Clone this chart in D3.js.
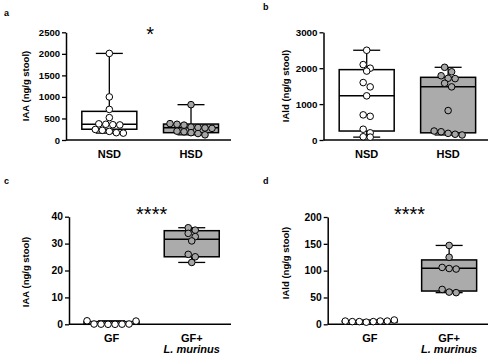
<!DOCTYPE html>
<html><head><meta charset="utf-8">
<script src="https://cdn.jsdelivr.net/npm/d3@7"></script>
<style>body{margin:0;background:#fff}svg{display:block}text{font-family:"Liberation Sans",Arial,sans-serif}</style>
</head><body>
<svg id="chart" width="493" height="357"></svg>
<script>
// ---- data ----
const panelLetters = ["a", "b", "c", "d"];
const groupsAB = ["NSD", "HSD"];
const groupsCD = ["GF", "GF+"];
const subLabelsCD = ["", "L. murinus"];
const yLabels = ["IAA (ng/g stool)", "IAld (ng/g stool)", "IAA (ng/g stool)", "IAld (ng/g stool)"];
const sigLabels = ["*", "", "****", "****"];

const ticksA = [0, 500, 1000, 1500, 2000, 2500];
const ticksB = [0, 1000, 2000, 3000];
const ticksC = [0, 10, 20, 30, 40];
const ticksD = [0, 50, 100, 150, 200];

// individual animals
const iaaNSD = [2010, 1000, 710, 520, 375, 365, 355, 350, 245, 225, 200, 170, 160];
const iaaHSD = [820, 380, 365, 345, 300, 290, 280, 270, 205, 190, 170, 150, 120];
const ialdNSD = [2500, 2100, 2000, 1920, 1600, 1480, 1230, 700, 660, 300, 200, 90, 80];
const ialdHSD = [2025, 1900, 1790, 1720, 1710, 1580, 1480, 820, 250, 230, 185, 160, 140];
const iaaGF = [1.3, 0.1, 0.05, 0, 0, 0.05, 0.1, 1.2];
const iaaLm = [35.9, 35.0, 33.8, 32.6, 31.0, 26.0, 25.1, 23.0];
const ialdGF = [6, 5, 5, 4, 5, 6, 6, 8];
const ialdLm = [147, 125, 106, 104, 103, 65, 60, 59];

// box summaries [min, q1, median, q3, max]
const boxIaaNSD = [160, 250, 365, 665, 2010];
const boxIaaHSD = [120, 170, 285, 370, 820];
const boxIaldNSD = [80, 250, 1234, 1960, 2500];
const boxIaldHSD = [140, 200, 1485, 1746, 2025];
const boxIaaGF = [0, 0, 0.1, 1.0, 1.3];
const boxIaaLm = [23.0, 25.1, 31.6, 34.8, 35.9];
const boxIaldGF = [4, 4.5, 5, 6, 8];
const boxIaldLm = [59, 62, 104.7, 120, 147];

// ---- layout ----
const layout = [
  {x0: 66, x1: 231, yTop: 32.3, yBot: 140, letterX: 4, letterY: 16, labelX: 25.5, labelY: 86, catY: 158, tickFs: 9.5, starY: 40.5},
  {x0: 323.5, x1: 488, yTop: 32.3, yBot: 140, letterX: 263, letterY: 10, labelX: 285.7, labelY: 86, catY: 158, tickFs: 9.8, starY: 40.5},
  {x0: 69, x1: 231, yTop: 216.7, yBot: 324.3, letterX: 4, letterY: 183.5, labelX: 25.5, labelY: 272, catY: 342, tickFs: 10.3, starY: 221},
  {x0: 327.7, x1: 488, yTop: 217, yBot: 324.3, letterX: 263, letterY: 184, labelX: 285.7, labelY: 263, catY: 342, tickFs: 10.3, starY: 221}
];

const panels = [
  {groups: groupsAB, sub: ["", ""], ticks: ticksA, values: [iaaNSD, iaaHSD], boxes: [boxIaaNSD, boxIaaHSD]},
  {groups: groupsAB, sub: ["", ""], ticks: ticksB, values: [ialdNSD, ialdHSD], boxes: [boxIaldNSD, boxIaldHSD]},
  {groups: groupsCD, sub: subLabelsCD, ticks: ticksC, values: [iaaGF, iaaLm], boxes: [boxIaaGF, boxIaaLm]},
  {groups: groupsCD, sub: subLabelsCD, ticks: ticksD, values: [ialdGF, ialdLm], boxes: [boxIaldGF, boxIaldLm]}
];

const fills = ["#ffffff", "#ababab"];
const ptFills = ["#ffffff", "#a6a6a6"];
const R = 3.3, D = 7.0;

// row-based scatter (GraphPad-like): points close in y share a row, centred
function swarm(vals, y) {
  const pts = vals.map((v, i) => ({v, i, y: y(v)})).sort((a, b) => a.y - b.y);
  const rows = [];
  pts.forEach(p => {
    const row = rows[rows.length - 1];
    if (row && p.y - row[0].y < D * 0.72) row.push(p); else rows.push([p]);
  });
  rows.forEach(row => {
    row.sort((a, b) => a.i - b.i);
    row.forEach((p, j) => { p.x = (j - (row.length - 1) / 2) * D; });
  });
  return pts;
}

const svg = d3.select("#chart");

panels.forEach((P, k) => {
  const L = layout[k];
  const g = svg.append("g");
  const y = d3.scaleLinear().domain([0, d3.max(P.ticks)]).range([L.yBot, L.yTop]);
  const x = d3.scalePoint().domain(P.groups).range([L.x0, L.x1]).padding(0.51).align(0.52);
  const bw = 55, cap = 27;

  const ya = g.append("g").attr("transform", `translate(${L.x0},0)`)
    .call(d3.axisLeft(y).tickValues(P.ticks).tickSize(4).tickSizeOuter(0).tickPadding(2).tickFormat(d3.format("d")));
  ya.select(".domain").attr("stroke-width", 1.5);
  ya.selectAll(".tick line").attr("stroke-width", 1.3);
  ya.selectAll(".tick text").attr("font-size", L.tickFs).attr("font-weight", "bold").attr("fill", "#000")
    .style("font-family", '"Liberation Sans",Arial,sans-serif');

  const xa = g.append("g").attr("transform", `translate(0,${L.yBot})`)
    .call(d3.axisBottom(x).tickSize(0).tickSizeOuter(0).tickFormat(""));
  xa.select(".domain").attr("stroke-width", 1.5).attr("d", `M${L.x0},0H${L.x1}`);

  P.groups.forEach((grp, i) => {
    const b = P.boxes[i], cx = x(grp);
    const bg = g.append("g");
    bg.append("line").attr("x1", cx).attr("x2", cx).attr("y1", y(b[4])).attr("y2", y(b[3]))
      .attr("stroke", "#000").attr("stroke-width", 1.3);
    bg.append("line").attr("x1", cx).attr("x2", cx).attr("y1", y(b[1])).attr("y2", y(b[0]))
      .attr("stroke", "#000").attr("stroke-width", 1.3);
    [b[0], b[4]].forEach(v => bg.append("line").attr("x1", cx - cap / 2).attr("x2", cx + cap / 2)
      .attr("y1", y(v)).attr("y2", y(v)).attr("stroke", "#000").attr("stroke-width", 1.3));
    bg.append("rect").attr("x", cx - bw / 2).attr("width", bw)
      .attr("y", y(b[3])).attr("height", Math.max(0.5, y(b[1]) - y(b[3])))
      .attr("fill", fills[i]).attr("stroke", "#000").attr("stroke-width", 1.5);
    bg.append("line").attr("x1", cx - bw / 2).attr("x2", cx + bw / 2).attr("y1", y(b[2])).attr("y2", y(b[2]))
      .attr("stroke", "#000").attr("stroke-width", 1.5);

    const pts = swarm(P.values[i], y);
    g.append("g").selectAll("circle").data(pts).join("circle")
      .attr("cx", d => cx + d.x).attr("cy", d => d.y).attr("r", R)
      .attr("fill", ptFills[i]).attr("stroke", "#000").attr("stroke-width", 1);

    g.append("text").attr("x", cx).attr("y", L.catY).attr("text-anchor", "middle")
      .attr("font-size", 11).attr("font-weight", "bold").text(grp);
    if (P.sub[i]) {
      g.append("text").attr("x", cx).attr("y", L.catY + 11).attr("text-anchor", "middle")
        .attr("font-size", 11).attr("font-weight", "bold").attr("font-style", "italic").text(P.sub[i]);
    }
  });

  g.append("text").attr("transform", `translate(${L.labelX},${L.labelY}) rotate(-90)`)
    .attr("text-anchor", "middle").attr("dominant-baseline", "central")
    .attr("font-size", 9.5).attr("font-weight", "bold").text(yLabels[k]);

  g.append("text").attr("x", L.letterX).attr("y", L.letterY)
    .attr("font-size", 9).attr("font-weight", "bold").text(panelLetters[k]);

  if (sigLabels[k]) {
    const mid = (x(P.groups[0]) + x(P.groups[1])) / 2;
    g.append("text").attr("x", mid).attr("y", L.starY).attr("text-anchor", "middle")
      .attr("font-size", 20).text(sigLabels[k]);
  }
});
</script>
</body></html>
